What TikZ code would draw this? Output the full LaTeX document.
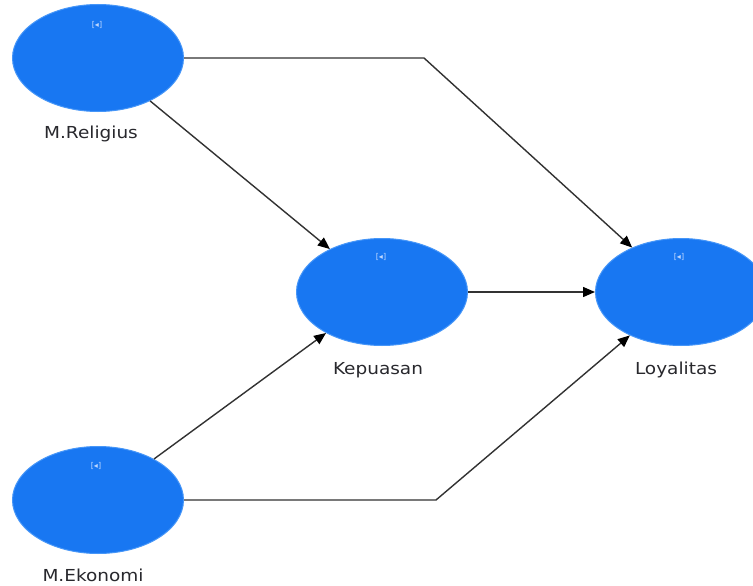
\documentclass[tikz,border=0pt]{standalone}
\usepackage{fontspec}
\usepackage{graphicx}
\setmainfont{DejaVu Sans}
\usetikzlibrary{shapes.geometric,arrows.meta}
\definecolor{lvfill}{RGB}{24,119,242}
\definecolor{lvedge}{RGB}{70,150,248}
\definecolor{lvicon}{RGB}{190,215,255}
\definecolor{linkgray}{RGB}{50,50,50}
\definecolor{labeltext}{RGB}{40,40,45}
\tikzset{
  latent/.style={ellipse, fill=lvfill, draw=lvedge, line width=1pt,
    minimum width=171pt, minimum height=107pt, inner sep=0pt},
  lvlabel/.style={inner sep=0pt, text=labeltext,
    font=\fontsize{16.5pt}{18pt}\selectfont},
  lvicon/.style={inner sep=0pt, text=lvicon,
    font=\fontsize{8pt}{9pt}\selectfont},
  link/.style={draw=linkgray, line width=1.4pt, line join=miter,
    -{Triangle[length=12pt,width=10pt,color=black]}}
}
\newcommand{\widetext}[1]{\scalebox{1.12}[1]{#1}}
\begin{document}
\begin{tikzpicture}[x=1pt,y=-1pt]
\useasboundingbox (0,0) rectangle (753,586);
\clip (0,0) rectangle (753,586);
\fill[white] (0,0) rectangle (753,586);
% latent variables
\node[latent] (R) at (98,58) {};
\node[latent] (K) at (382,292) {};
\node[latent] (L) at (681,292) {};
\node[latent] (E) at (98,500) {};
% icons
\node[lvicon] (Ri) at (97,25) {[◂]};
\node[lvicon] (Ki) at (381,257) {[◂]};
\node[lvicon] (Li) at (679,257) {[◂]};
\node[lvicon] (Ei) at (96,466) {[◂]};
% labels
\node[lvlabel] (Rl) at (91,134) {\widetext{M.Religius}};
\node[lvlabel] (Kl) at (378,370) {\widetext{Kepuasan}};
\node[lvlabel] (Ll) at (676,370) {\widetext{Loyalitas}};
\node[lvlabel] (El) at (93,575) {\widetext{M.Ekonomi}};
% bend points
\coordinate (c1) at (424,58);
\coordinate (c2) at (436,500);
% connectors
\draw[link] (R.east) -- (c1) -- (L);
\draw[link] (R) -- (K);
\draw[link] (K) -- (L);
\draw[link] (E) -- (K);
\draw[link] (E.east) -- (c2) -- (L);
\end{tikzpicture}
\end{document}
